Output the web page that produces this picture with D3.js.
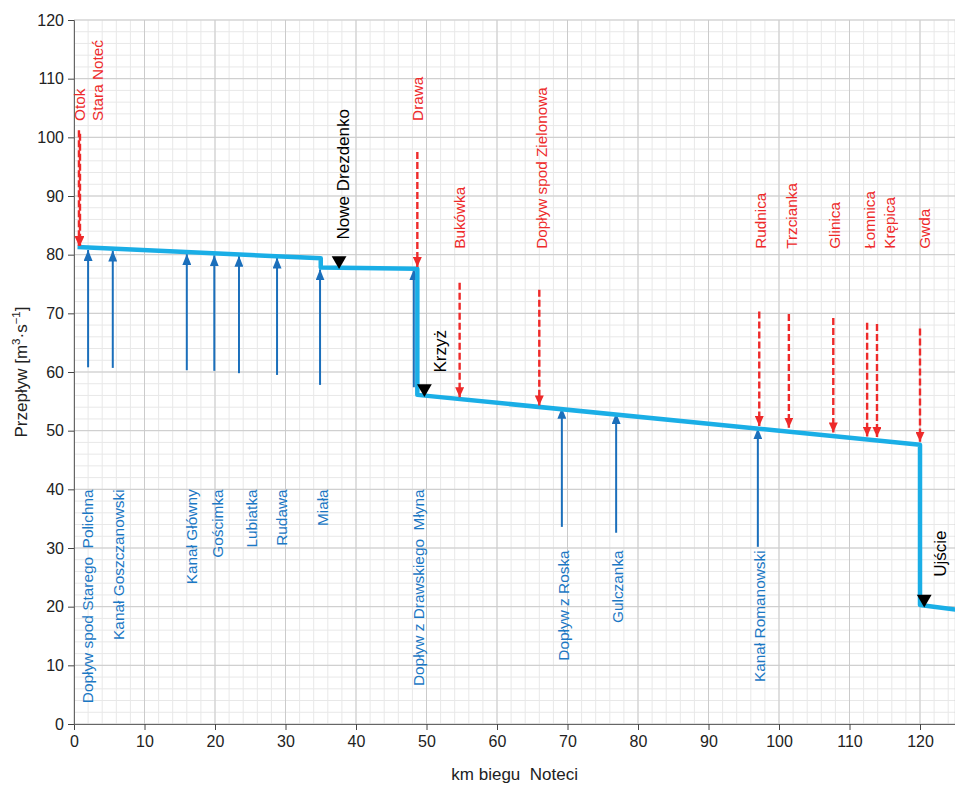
<!DOCTYPE html>
<html><head><meta charset="utf-8">
<script src="https://cdn.jsdelivr.net/npm/d3@7"></script>
<style>
body{margin:0;background:#fff;}
svg{display:block;font-family:"Liberation Sans",Arial,sans-serif;}
text{white-space:pre;}
</style></head>
<body><svg id="c" width="955" height="785"></svg>
<script>
// main discharge profile [km, Q]
const mainLine = [[0.5,81.3],[35,79.4],[35,77.8],[48.7,77.6],[48.7,56.1],[120,47.6],[120,20.3],[125,19.5]];
// tributaries shown with blue solid arrows: name, km, Q from, Q to
const blueNames = ["Dopływ spod Starego  Polichna","Kanał Goszczanowski","Kanał Główny","Gościmka","Lubiatka","Rudawa","Miała","Dopływ z Drawskiego  Młyna","Dopływ z Roska","Gulczanka","Kanał Romanowski"];
const blueKm    = [2.0, 5.5, 16.0, 19.9, 23.4, 28.8, 34.9, 48.2, 69.2, 76.9, 97.0];
const blueFrom  = [60.8, 60.7, 60.3, 60.2, 59.8, 59.5, 57.8, 57.4, 33.6, 32.6, 30.2];
const blueTo    = [80.8, 80.7, 80.1, 79.9, 79.8, 79.5, 77.5, 77.5, 53.9, 53.0, 50.4];
const blueLabelKm = [2.0, 6.3, 16.7, 20.4, 25.2, 29.5, 35.2, 48.9, 69.4, 77.1, 97.2];
const blueLabelTop = [40, 40, 40, 40, 40, 40, 40, 40, 29.6, 29.6, 29.6];
// tributaries shown with red dashed arrows
const redArrowKm   = [0.7, 0.85, 48.7, 54.7, 66.0, 97.2, 101.4, 107.7, 112.5, 113.9, 120.0];
const redFrom      = [101.2, 100.6, 97.5, 75.2, 74.0, 70.3, 69.9, 69.2, 68.4, 68.2, 67.4];
const redTo        = [81.5, 81.5, 77.9, 55.7, 54.3, 50.8, 50.5, 49.7, 49.0, 48.9, 48.1];
const redNames     = ["Otok","Stara Noteć","Drawa","Bukówka","Dopływ spod Zielonowa","Rudnica","Trzcianka","Glinica","Łomnica","Krępica","Gwda"];
const redLabelKm   = [0.85, 3.3, 48.7, 54.7, 66.3, 97.4, 101.8, 107.9, 112.8, 115.7, 120.6];
const redLabelBase = [102.8, 102.8, 102.8, 81, 81, 81, 81, 81, 81, 81, 81];
// gauging stations (black triangles)
const stNames = ["Nowe Drezdenko","Krzyż","Ujście"];
const stKm    = [37.6, 49.7, 120.6];
const stQ     = [79.0, 57.2, 21.3];
const stLabelKm = [38.1, 51.9, 122.8];
const stLabelBase = [82.6, 59.9, 25.1];
// axes
const xTicks = [0,10,20,30,40,50,60,70,80,90,100,110,120];
const yTicks = [0,10,20,30,40,50,60,70,80,90,100,110,120];

const svg = d3.select("#c");
const L=74, R=955.25, T=20, B=724;
const x = d3.scaleLinear().domain([0,125]).range([L,R]);
const y = d3.scaleLinear().domain([0,120]).range([B,T]);

const defs = svg.append("defs");
function mk(id,color,w,h){
  defs.append("marker").attr("id",id).attr("markerUnits","userSpaceOnUse")
   .attr("viewBox",`0 0 ${h} ${w}`).attr("refX",h).attr("refY",w/2)
   .attr("markerWidth",h).attr("markerHeight",w).attr("orient","auto")
   .append("path").attr("d",`M0,0L${h},${w/2}L0,${w}Z`).attr("fill",color);
}
mk("ab","#1b6fbb",9,11);
mk("ar","#ee2a2a",9,10);

// grid
const g = svg.append("g");
const minor = d3.range(0,125.1,2), minorY = d3.range(0,120.1,2);
g.selectAll(".mx").data(minor).join("line").attr("x1",d=>x(d)).attr("x2",d=>x(d)).attr("y1",T).attr("y2",B).attr("stroke","#e8e8e8");
g.selectAll(".my").data(minorY).join("line").attr("y1",d=>y(d)).attr("y2",d=>y(d)).attr("x1",L).attr("x2",R).attr("stroke","#e8e8e8");
g.selectAll(".Mx").data(xTicks.concat([125])).join("line").attr("x1",d=>x(d)).attr("x2",d=>x(d)).attr("y1",T).attr("y2",B).attr("stroke","#cbcbcb");
g.selectAll(".My").data(yTicks).join("line").attr("y1",d=>y(d)).attr("y2",d=>y(d)).attr("x1",L).attr("x2",R).attr("stroke","#cbcbcb");

// axes
const xa = svg.append("g").attr("transform",`translate(0,${B})`).call(d3.axisBottom(x).tickValues(xTicks).tickSize(6).tickPadding(6));
const ya = svg.append("g").attr("transform",`translate(${L},0)`).call(d3.axisLeft(y).tickValues(yTicks).tickSize(6).tickPadding(4));
[xa,ya].forEach(a=>{a.selectAll("text").attr("font-size",16).attr("fill","#222").attr("font-family","Liberation Sans, Arial, sans-serif");
 a.select(".domain").attr("stroke","#666"); a.selectAll(".tick line").attr("stroke","#444");});

// axis labels
svg.append("text").attr("x",(L+R)/2).attr("y",780).attr("text-anchor","middle").attr("font-size",17).attr("fill","#222").text("km biegu  Noteci");
const yl = svg.append("text").attr("transform",`translate(27,${372}) rotate(-90)`).attr("text-anchor","middle").attr("font-size",17).attr("fill","#222");
yl.append("tspan").text("Przepływ [m");
yl.append("tspan").attr("font-size",11.5).attr("dy",-7).text("3");
yl.append("tspan").attr("dy",7).text("·s");
yl.append("tspan").attr("font-size",11.5).attr("dy",-7).text("−1");
yl.append("tspan").attr("dy",7).text("]");

// blue arrows
svg.append("g").selectAll("line").data(blueKm).join("line")
 .attr("x1",d=>x(d)).attr("x2",d=>x(d)).attr("y1",(d,i)=>y(blueFrom[i])).attr("y2",(d,i)=>y(blueTo[i]))
 .attr("stroke","#1b6fbb").attr("stroke-width",2).attr("marker-end","url(#ab)");

// main line
svg.append("path").datum(mainLine).attr("d",d3.line().x(d=>x(d[0])).y(d=>y(d[1])))
 .attr("fill","none").attr("stroke","#1aaee6").attr("stroke-width",4.5).attr("stroke-linejoin","round");

// red arrows
svg.append("g").selectAll("line").data(redArrowKm).join("line")
 .attr("x1",d=>x(d)).attr("x2",d=>x(d)).attr("y1",(d,i)=>y(redFrom[i])).attr("y2",(d,i)=>y(redTo[i]))
 .attr("stroke","#ee2a2a").attr("stroke-width",2.4).attr("stroke-dasharray","7,3").attr("marker-end","url(#ar)");

// labels
svg.append("g").selectAll("text").data(blueNames).join("text")
 .attr("transform",(d,i)=>`translate(${x(blueLabelKm[i])},${y(blueLabelTop[i])}) rotate(-90)`)
 .attr("text-anchor","end").attr("dy","0.35em").attr("font-size",15.4).attr("fill","#1b78c4").text(d=>d);
svg.append("g").selectAll("text").data(redNames).join("text")
 .attr("transform",(d,i)=>`translate(${x(redLabelKm[i])},${y(redLabelBase[i])}) rotate(-90)`)
 .attr("text-anchor","start").attr("dy","0.35em").attr("font-size",15.3).attr("fill","#ee2a2a").text(d=>d);

// stations
svg.append("g").selectAll("path").data(stKm).join("path")
 .attr("d",d3.symbol(d3.symbolTriangle,95)).attr("fill","#000")
 .attr("transform",(d,i)=>`translate(${x(d)},${y(stQ[i])}) rotate(180)`);
svg.append("g").selectAll("text").data(stNames).join("text")
 .attr("transform",(d,i)=>`translate(${x(stLabelKm[i])},${y(stLabelBase[i])}) rotate(-90)`)
 .attr("text-anchor","start").attr("dy","0.35em").attr("font-size",17).attr("fill","#000").text(d=>d);
</script></body></html>
